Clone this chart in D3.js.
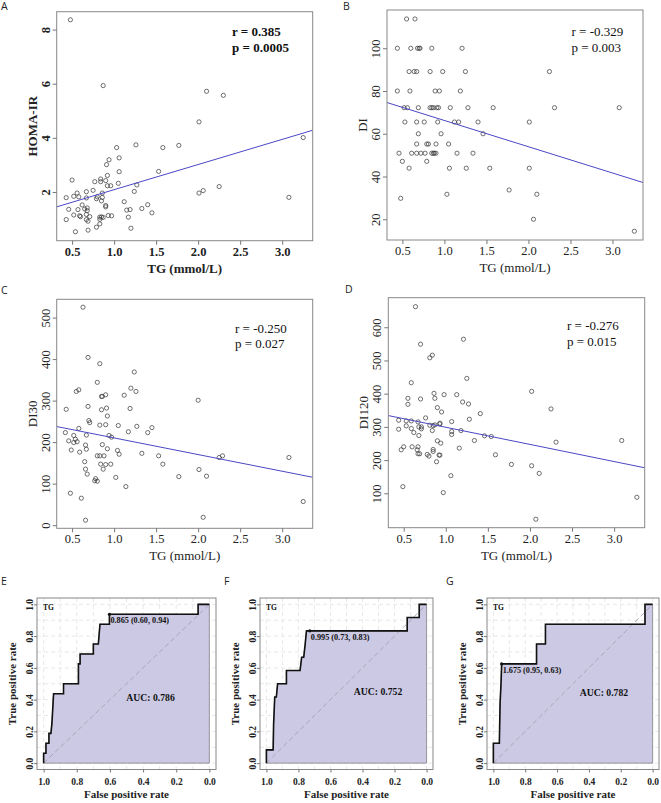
<!DOCTYPE html>
<html>
<head>
<meta charset="utf-8">
<script src="https://cdn.jsdelivr.net/npm/d3@7"></script>
<style>
  body { margin: 0; background: #fff; }
  svg { display: block; }
</style>
</head>
<body>
<div id="fig"></div>
<script>
// ---- scatter data (TG vs outcome) ----
const tgTicks = [0.5, 1.0, 1.5, 2.0, 2.5, 3.0];

const tgA = [0.48,0.87,2.10,2.30,2.01,3.25,1.03,1.26,1.58,1.77,1.06,0.94,0.91,1.06,1.53,0.92,0.50,0.77,0.84,0.84,
  0.90,1.05,0.92,0.96,1.27,1.24,0.75,0.67,2.01,2.06,2.25,0.56,0.52,0.58,0.43,0.67,0.79,0.80,0.86,0.86,
  0.85,0.90,0.90,1.12,3.08,1.40,0.62,0.46,0.57,0.65,0.68,0.68,1.15,1.19,1.33,1.45,0.52,0.59,0.60,0.67,
  0.71,0.83,0.85,0.87,0.93,0.97,1.17,0.43,0.67,0.69,0.83,0.83,0.79,0.69,0.54,1.20];
const homaA = [8.36,5.93,5.72,5.57,4.59,4.01,3.64,3.74,3.64,3.72,3.26,3.19,3.01,2.75,2.76,2.61,2.44,2.38,2.48,2.38,
  2.42,2.32,2.23,2.23,2.26,2.02,2.06,2.01,1.96,2.05,2.20,1.96,1.84,1.82,1.79,1.78,1.75,1.82,1.96,1.80,
  1.67,1.50,1.45,1.64,1.80,1.53,1.52,1.36,1.35,1.37,1.41,1.31,1.33,1.35,1.39,1.23,1.15,1.12,1.09,1.17,
  1.09,1.07,1.08,1.06,1.13,1.12,1.07,0.98,0.98,0.92,0.99,0.82,0.70,0.59,0.53,0.66];

const tgB = [0.55,0.65, 0.44,0.60,0.68,0.70,0.71,0.85,1.21, 0.58,0.64,0.67,0.83,0.98,1.25,2.25,
  0.44,0.59,0.89,0.94,1.19, 0.52,0.56,0.69,0.83,0.85,0.87,0.91,0.93,1.07,1.28,1.58,2.31,3.08,
  0.53,0.67,0.76,0.92,1.12,1.17,1.40,2.01, 0.69,0.96,1.46, 0.67,0.79,0.81,0.90,1.05,
  0.46,0.61,0.67,0.72,0.77,0.85,0.87,0.88,0.90,1.15,1.34, 0.50,0.79, 0.58,1.06,1.26,1.54,2.01,
  1.77, 1.03,2.10, 0.48, 2.06, 3.26];
const diB = [113.7,113.7, 100,100,100,100,100,100,100, 89.1,89.1,89.1,89.1,89.1,89.1,89.1,
  80,80,80,80,80, 72.2,72.2,72.2,72.2,72.2,72.2,72.2,72.2,72.2,72.2,72.2,72.2,72.2,
  65.5,65.5,65.5,65.5,65.5,65.5,65.5,65.5, 60,60,60, 55.2,55.2,55.2,55.2,55.2,
  50.9,50.9,50.9,50.9,50.9,50.9,50.9,50.9,50.9,50.9,50.9, 47.1,47.1, 43.9,43.9,43.9,43.9,43.9,
  33.7, 31.7,31.7, 29.8, 20, 14.4];

const tgC = [0.63,0.69,0.83,1.24,0.80,1.20,0.55,0.58,1.26,0.85,0.86,0.90,1.12,2.00,0.69,0.43,0.85,0.91,1.19,0.92,
  0.70,0.71,0.83,0.90,1.05,1.27,1.45,0.58,1.40,1.17,0.42,0.52,0.67,0.94,0.97,0.54,0.46,0.56,0.52,0.66,
  0.86,0.67,0.49,0.92,1.04,0.59,1.06,1.33,0.80,0.83,0.88,1.53,2.25,2.29,3.08,0.65,0.84,0.90,0.96,1.58,
  0.87,0.66,2.01,0.68,1.77,2.10,1.02,0.77,0.80,0.78,1.14,0.48,0.61,3.25,0.66,2.06];
const di30C = [525,404,389,369,344,330,322,326,322,310,310,314,313,301,286,279,278,282,281,263,
  252,247,241,242,240,238,235,233,223,225,223,216,217,216,212,207,203,201,199,193,
  194,183,181,184,180,176,171,173,167,167,167,167,163,167,163,153,147,146,147,147,
  135,135,134,123,117,118,115,107,106,112,93,77,65,57,12,19];

const tgD = [0.64,0.70,0.81,0.84,1.21,1.25,0.59,2.02,0.55,0.70,0.86,0.87,0.98,1.13,0.55,1.20,1.27,0.90,2.25,0.95,
  1.41,0.76,1.28,0.44,0.53,0.59,0.67,1.07,0.93,0.93,0.81,0.85,0.87,0.53,0.68,0.71,0.71,0.44,0.59,0.84,
  1.18,1.07,0.62,1.07,0.68,1.46,1.54,1.34,0.90,0.94,2.31,3.09,0.60,0.50,0.67,1.16,0.47,0.66,0.85,0.85,
  0.67,0.69,0.78,0.80,0.92,0.93,1.59,0.89,1.78,2.02,2.11,1.06,0.49,0.97,3.27,2.07];
const di120D = [662,549,508,516,564,446,433,407,386,384,401,386,397,397,368,375,369,358,354,345,
  340,327,323,320,318,318,315,316,311,309,305,304,306,303,300,300,294,293,295,289,
  289,286,283,277,274,273,271,259,258,251,254,259,240,240,240,236,231,231,232,226,
  219,219,217,212,215,215,216,195,187,183,160,153,120,102,88,22];

// regression lines: [intercept, slope]
const regA = [1.156, 0.929];
const regB = [78.49, -12.28];
const regC = [250.3, -40.12];
const regD = [350.4, -51.61];

// ---- ROC data (specificity, sensitivity) ----
const rocTicks = [0, 0.2, 0.4, 0.6, 0.8, 1.0];
const specE = [1,1,0.986,0.986,0.968,0.968,0.956,0.95,0.94,0.88,0.88,0.79,0.79,0.78,0.78,0.70,0.70,0.67,0.66,0.603,0.603,0.068,0.068,0];
const sensE = [0,0.0625,0.0625,0.125,0.125,0.1875,0.1875,0.25,0.4375,0.4375,0.5,0.5,0.625,0.625,0.6875,0.6875,0.75,0.75,0.875,0.875,0.9375,0.9375,1,1];
const specF = [1,1,0.958,0.955,0.948,0.938,0.93,0.875,0.875,0.79,0.78,0.767,0.758,0.75,0.729,0.121,0.121,0.046,0.046,0];
const sensF = [0,0.0833,0.0833,0.25,0.4167,0.4167,0.5,0.5,0.583,0.583,0.667,0.667,0.75,0.833,0.833,0.833,0.917,0.917,1,1];
const specG = [1,1,0.9625,0.958,0.952,0.948,0.729,0.729,0.673,0.673,0.048,0.048,0];
const sensG = [0,0.125,0.125,0.375,0.5,0.625,0.625,0.75,0.75,0.875,0.875,1,1];

const threshE = [0.603, 0.9375], threshF = [0.729, 0.833], threshG = [0.948, 0.625];
const labelsThresh = ["0.865 (0.60, 0.94)", "0.995 (0.73, 0.83)", "1.675 (0.95, 0.63)"];
const labelsAuc = ["AUC: 0.786", "AUC: 0.752", "AUC: 0.782"];

const serif = '"Liberation Serif", "Times New Roman", serif';
const sans = '"Open Sans", "Noto Sans", sans-serif';
const tgDomain = [0.317, 3.363];

const svg = d3.select('#fig').append('svg')
    .attr('width', 661)
    .attr('height', 803);

function panelLetter(txt, x, y) {
  svg.append('text').attr('x', x).attr('y', y)
    .style('font-family', sans).style('font-size', '10.5px').attr('fill', '#222')
    .text(txt);
}

function scatterPanel(p) {
  const [bx0, bx1, by0, by1] = p.box;
  const x = d3.scaleLinear().domain(tgDomain).range([bx0, bx1]);
  const y = d3.scaleLinear().domain(p.yDomain).range([by1, by0]);
  const weight = p.bold ? 'bold' : 'normal';
  const g = svg.append('g');

  svg.append('clipPath').attr('id', 'clip' + p.letter)
    .append('rect').attr('x', bx0).attr('y', by0).attr('width', bx1 - bx0).attr('height', by1 - by0);

  // points
  g.append('g').selectAll('circle')
    .data(p.xs.map((v, i) => [v, p.ys[i]]))
    .join('circle')
    .attr('cx', d => x(d[0]))
    .attr('cy', d => y(d[1]))
    .attr('r', 2.1)
    .attr('fill', 'none')
    .attr('stroke', '#333')
    .attr('stroke-width', 0.7);

  // fitted line
  g.append('line')
    .attr('clip-path', `url(#clip${p.letter})`)
    .attr('x1', x(tgDomain[0])).attr('y1', y(p.reg[0] + p.reg[1] * tgDomain[0]))
    .attr('x2', x(tgDomain[1])).attr('y2', y(p.reg[0] + p.reg[1] * tgDomain[1]))
    .attr('stroke', '#4a48c4').attr('stroke-width', 1);

  // box
  g.append('rect').attr('x', bx0).attr('y', by0).attr('width', bx1 - bx0).attr('height', by1 - by0)
    .attr('fill', 'none').attr('stroke', '#888').attr('stroke-width', 1);

  // axes
  const ax = g.append('g').attr('transform', `translate(0,${by1})`)
    .call(d3.axisBottom(x).tickValues(tgTicks).tickSize(4).tickPadding(2).tickFormat(d3.format('.1f')));
  const ay = g.append('g').attr('transform', `translate(${bx0},0)`)
    .call(d3.axisLeft(y).tickValues(p.yTicks).tickSize(4).tickFormat(d3.format('d')));
  [ax, ay].forEach(a => {
    a.select('.domain').remove();
    a.selectAll('line').attr('stroke', '#777');
    a.selectAll('text').style('font-family', serif).style('font-size', '12.5px')
      .style('font-weight', weight).attr('fill', '#222');
  });
  ay.selectAll('text')
    .attr('x', 0).attr('dy', 0)
    .attr('transform', 'translate(-7,0) rotate(-90)')
    .style('text-anchor', 'middle');

  // axis titles
  g.append('text')
    .attr('x', (bx0 + bx1) / 2).attr('y', by1 + 32)
    .attr('text-anchor', 'middle')
    .style('font-family', serif).style('font-size', '13px').style('font-weight', weight)
    .attr('fill', '#222').text('TG (mmol/L)');
  g.append('text')
    .attr('transform', `translate(${bx0 - 20},${(by0 + by1) / 2}) rotate(-90)`)
    .attr('text-anchor', 'middle')
    .style('font-family', serif).style('font-size', '13px').style('font-weight', weight)
    .attr('fill', '#222').text(p.yTitle);

  // r / p
  p.stats.forEach((s, i) => {
    g.append('text').attr('x', p.statPos[0]).attr('y', p.statPos[1] + i * 15.5)
      .style('font-family', serif).style('font-size', '13px').style('font-weight', weight)
      .attr('fill', '#111').text(s);
  });

  panelLetter(p.letter, p.letterPos[0], p.letterPos[1]);
}

function rocPanel(p) {
  const [bx0, bx1] = p.xr;
  const by0 = 598, by1 = 769.5;
  const x = d3.scaleLinear().domain([1.04, -0.04]).range([bx0, bx1]);
  const y = d3.scaleLinear().domain([-0.04, 1.04]).range([by1, by0]);
  const g = svg.append('g');

  // grid
  const gridVals = d3.range(0, 1.0001, 0.1);
  g.append('g').selectAll('line.v').data(gridVals).join('line')
    .attr('x1', d => x(d)).attr('x2', d => x(d)).attr('y1', by0).attr('y2', by1)
    .attr('stroke', '#e2e2e2').attr('stroke-width', 0.8).attr('stroke-dasharray', '4,3');
  g.append('g').selectAll('line.h').data(gridVals).join('line')
    .attr('y1', d => y(d)).attr('y2', d => y(d)).attr('x1', bx0).attr('x2', bx1)
    .attr('stroke', '#e2e2e2').attr('stroke-width', 0.8).attr('stroke-dasharray', '4,3');

  const pts = p.spec.map((s, i) => [s, p.sens[i]]);

  // auc polygon
  g.append('path')
    .attr('d', d3.line().x(d => x(d[0])).y(d => y(d[1]))(pts.concat([[0, 0]])) + 'Z')
    .attr('fill', '#cbc9e3').attr('stroke', '#666').attr('stroke-width', 0.6);

  // chance line
  g.append('line')
    .attr('x1', x(1)).attr('y1', y(0)).attr('x2', x(0)).attr('y2', y(1))
    .attr('stroke', '#a3a3b3').attr('stroke-width', 0.9).attr('stroke-dasharray', '5,3');

  // curve
  g.append('path')
    .attr('d', d3.line().x(d => x(d[0])).y(d => y(d[1]))(pts))
    .attr('fill', 'none').attr('stroke', '#111').attr('stroke-width', 1.6);

  // threshold
  g.append('circle').attr('cx', x(p.thresh[0])).attr('cy', y(p.thresh[1])).attr('r', 1.6).attr('fill', '#111');
  g.append('text').attr('x', x(p.thresh[0]) + 1).attr('y', y(p.thresh[1]) + 9)
    .style('font-family', serif).style('font-size', '8.2px').style('font-weight', 'bold')
    .attr('fill', '#111').text(p.threshLabel);

  // AUC
  g.append('text').attr('x', x(p.aucPos[0])).attr('y', y(p.aucPos[1]))
    .attr('text-anchor', 'middle')
    .style('font-family', serif).style('font-size', '9.7px').style('font-weight', 'bold')
    .attr('fill', '#111').text(p.aucLabel);

  // TG tag
  g.append('text').attr('x', bx0 + 6).attr('y', by0 + 12)
    .style('font-family', serif).style('font-size', '7.5px').style('font-weight', 'bold')
    .attr('fill', '#111').text('TG');

  // box
  g.append('rect').attr('x', bx0).attr('y', by0).attr('width', bx1 - bx0).attr('height', by1 - by0)
    .attr('fill', 'none').attr('stroke', '#888').attr('stroke-width', 1);

  // axes
  const ax = g.append('g').attr('transform', `translate(0,${by1})`)
    .call(d3.axisBottom(x).tickValues(rocTicks).tickSize(3).tickPadding(6).tickFormat(d3.format('.1f')));
  const ay = g.append('g').attr('transform', `translate(${bx0},0)`)
    .call(d3.axisLeft(y).tickValues(rocTicks).tickSize(3).tickFormat(d3.format('.1f')));
  [ax, ay].forEach(a => {
    a.select('.domain').remove();
    a.selectAll('line').attr('stroke', '#777');
    a.selectAll('text').style('font-family', serif).style('font-size', '9.5px')
      .style('font-weight', 'bold').attr('fill', '#222');
  });
  ay.selectAll('text')
    .attr('x', 0).attr('dy', 0)
    .attr('transform', 'translate(-4,0) rotate(-90)')
    .style('text-anchor', 'middle');

  g.append('text')
    .attr('x', (bx0 + bx1) / 2).attr('y', 798)
    .attr('text-anchor', 'middle')
    .style('font-family', serif).style('font-size', '11px').style('font-weight', 'bold')
    .attr('fill', '#222').text('False positive rate');
  g.append('text')
    .attr('transform', `translate(${bx0 - 21.5},${(by0 + by1) / 2}) rotate(-90)`)
    .attr('text-anchor', 'middle')
    .style('font-family', serif).style('font-size', '11px').style('font-weight', 'bold')
    .attr('fill', '#222').text('True positive rate');

  panelLetter(p.letter, p.letterPos[0], p.letterPos[1]);
}

scatterPanel({ letter: 'A', letterPos: [1, 10], box: [56.7, 312.7, 11.7, 240.7], yDomain: [0.2, 8.66],
  yTicks: [2, 4, 6, 8], xs: tgA, ys: homaA, reg: regA, yTitle: 'HOMA-IR', bold: true,
  stats: ['r = 0.385', 'p = 0.0005'], statPos: [232, 36] });
scatterPanel({ letter: 'B', letterPos: [343, 10], box: [387, 643, 10, 240], yDomain: [10.3, 117.9],
  yTicks: [20, 40, 60, 80, 100], xs: tgB, ys: diB, reg: regB, yTitle: 'DI', bold: false,
  stats: ['r = -0.329', 'p = 0.003'], statPos: [571.5, 36] });
scatterPanel({ letter: 'C', letterPos: [1, 294], box: [56.7, 312.7, 299.3, 528.3], yDomain: [-7.5, 544],
  yTicks: [0, 100, 200, 300, 400, 500], xs: tgC, ys: di30C, reg: regC, yTitle: 'DI30', bold: false,
  stats: ['r = -0.250', 'p = 0.027'], statPos: [235, 332.5] });
scatterPanel({ letter: 'D', letterPos: [345, 293], box: [388.3, 644.7, 297.7, 527.7], yDomain: [-3.6, 689],
  yTicks: [100, 200, 300, 400, 500, 600], xs: tgD, ys: di120D, reg: regD, yTitle: 'DI120', bold: false,
  stats: ['r = -0.276', 'p = 0.015'], statPos: [567, 330] });

rocPanel({ letter: 'E', letterPos: [1, 585], xr: [37, 216], spec: specE, sens: sensE, thresh: threshE,
  threshLabel: labelsThresh[0], aucLabel: labelsAuc[0], aucPos: [0.355, 0.39] });
rocPanel({ letter: 'F', letterPos: [224, 585], xr: [260, 433], spec: specF, sens: sensF, thresh: threshF,
  threshLabel: labelsThresh[1], aucLabel: labelsAuc[1], aucPos: [0.303, 0.43] });
rocPanel({ letter: 'G', letterPos: [446, 585], xr: [487, 659], spec: specG, sens: sensG, thresh: threshG,
  threshLabel: labelsThresh[2], aucLabel: labelsAuc[2], aucPos: [0.306, 0.425] });
</script>
</body>
</html>
